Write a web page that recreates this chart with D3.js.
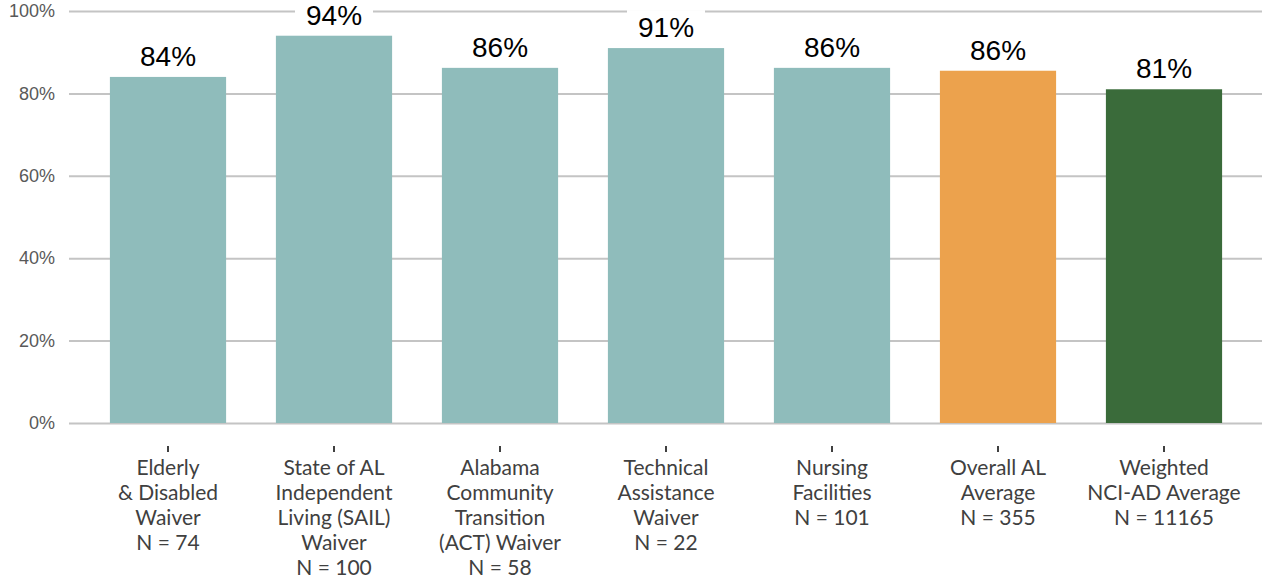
<!DOCTYPE html>
<html>
<head>
<meta charset="utf-8">
<script src="https://cdn.jsdelivr.net/npm/d3@7"></script>
<style>
  body { margin: 0; background: #fff; }
  svg { display: block; }
</style>
</head>
<body>
<div id="chart"></div>
<script>
// chart data
const categories = [
    ["Elderly", "& Disabled", "Waiver", "N = 74"],
    ["State of AL", "Independent", "Living (SAIL)", "Waiver", "N = 100"],
    ["Alabama", "Community", "Transition", "(ACT) Waiver", "N = 58"],
    ["Technical", "Assistance", "Waiver", "N = 22"],
    ["Nursing", "Facilities", "N = 101"],
    ["Overall AL", "Average", "N = 355"],
    ["Weighted", "NCI-AD Average", "N = 11165"]
];
const values = [84, 94, 86.2, 91, 86.2, 85.5, 81];
const valueLabels = ["84%", "94%", "86%", "91%", "86%", "86%", "81%"];
const barColors = ["#8fbcbb", "#8fbcbb", "#8fbcbb", "#8fbcbb", "#8fbcbb", "#eca24d", "#3a6b3a"];
const yTicks = [0, 20, 40, 60, 80, 100];

const width = 1262, height = 580;
const margin = {top: 11, right: 15, bottom: 157, left: 85};

const svg = d3.select("#chart").append("svg")
    .attr("width", width)
    .attr("height", height);

const x = d3.scaleBand()
    .domain(d3.range(categories.length))
    .range([margin.left, width - margin.right])
    .paddingInner(0.3)
    .paddingOuter(0.15);

const y = d3.scaleLinear()
    .domain([0, 100])
    .range([height - margin.bottom, margin.top]);

// gridlines + y labels
const yAxis = d3.axisLeft(y)
    .tickValues(yTicks)
    .tickFormat(d => d + "%")
    .tickSize(-(width - 69))
    .tickPadding(14);

const gy = svg.append("g")
    .attr("transform", "translate(69,0)")
    .call(yAxis);
gy.select(".domain").remove();
gy.selectAll(".tick line")
    .attr("stroke", "#c4c4c4")
    .attr("stroke-width", 2);
gy.selectAll(".tick text")
    .attr("fill", "#595959")
    .attr("font-family", "Liberation Sans, Arial, sans-serif")
    .attr("font-size", 18);

// bars
svg.append("g").selectAll("rect")
    .data(values)
    .join("rect")
    .attr("x", (d, i) => x(i))
    .attr("y", d => y(d))
    .attr("width", x.bandwidth())
    .attr("height", d => y(0) - y(d))
    .attr("fill", (d, i) => barColors[i]);

// value labels with white box behind
const lab = svg.append("g").selectAll("g")
    .data(values)
    .join("g")
    .attr("transform", (d, i) => `translate(${x(i) + x.bandwidth() / 2},${y(d) - 11})`);
lab.append("rect")
    .attr("x", -39)
    .attr("y", -27)
    .attr("width", 78)
    .attr("height", 35)
    .attr("fill", "#fff");
lab.append("text")
    .attr("text-anchor", "middle")
    .attr("font-family", "Liberation Sans, Arial, sans-serif")
    .attr("font-size", 28)
    .attr("fill", "#000")
    .text((d, i) => valueLabels[i]);

// x ticks
svg.append("g").selectAll("line")
    .data(categories)
    .join("line")
    .attr("x1", (d, i) => x(i) + x.bandwidth() / 2)
    .attr("x2", (d, i) => x(i) + x.bandwidth() / 2)
    .attr("y1", 446)
    .attr("y2", 452)
    .attr("stroke", "#404040")
    .attr("stroke-width", 2);

// category labels
const catText = svg.append("g").selectAll("text")
    .data(categories)
    .join("text")
    .attr("text-anchor", "middle")
    .attr("font-family", "Lato, sans-serif")
    .attr("font-size", 21)
    .attr("fill", "#404040")
    .attr("transform", (d, i) => `translate(${x(i) + x.bandwidth() / 2},475)`);
catText.selectAll("tspan")
    .data(d => d)
    .join("tspan")
    .attr("x", 0)
    .attr("y", (d, j) => j * 25)
    .text(d => d);
</script>
</body>
</html>
